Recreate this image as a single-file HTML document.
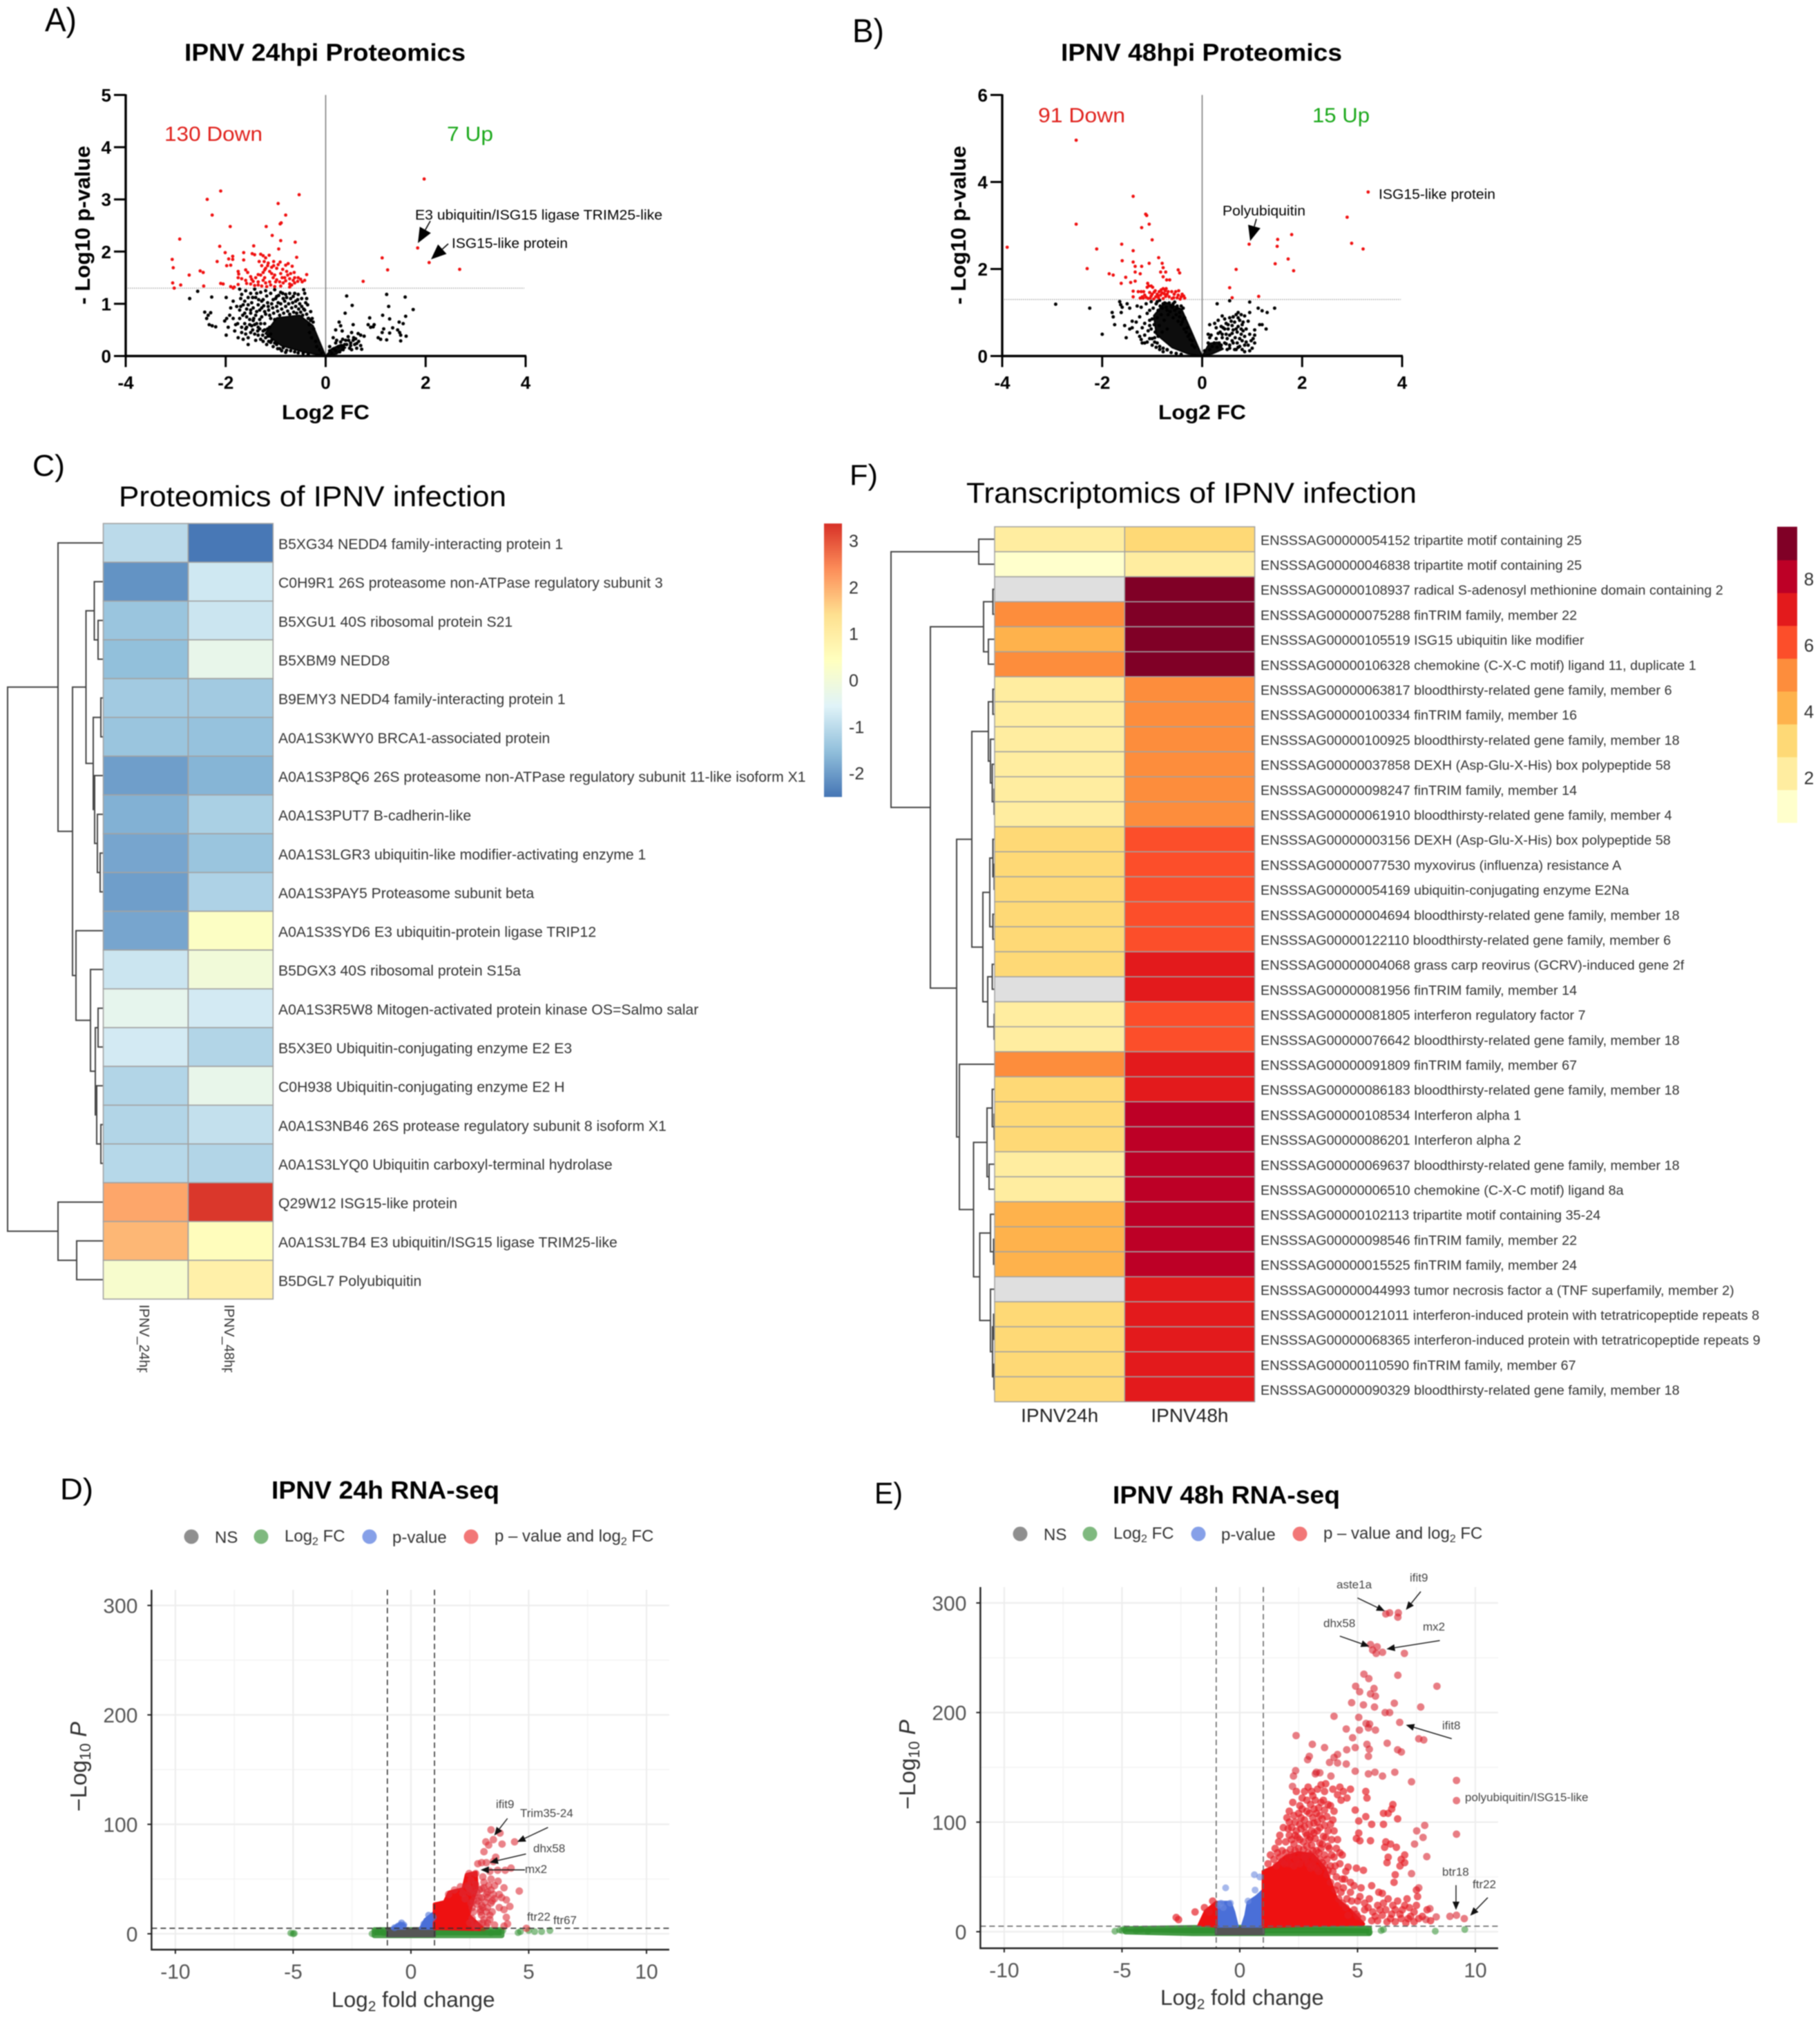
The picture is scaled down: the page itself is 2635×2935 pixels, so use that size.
<!DOCTYPE html>
<html lang="en">
<head>
<meta charset="utf-8">
<title>IPNV proteomics and transcriptomics figure</title>
<style>
html,body{margin:0;padding:0;background:#fff}
svg{display:block;filter:blur(.7px);font-family:"Liberation Sans",Arial,sans-serif}
</style>
</head>
<body>
<svg id="figure" xmlns="http://www.w3.org/2000/svg" width="2635" height="2935" viewBox="0 0 2635 2935">
<defs>
<linearGradient id="rdylbu" x1="0" y1="1" x2="0" y2="0">
<stop offset="0" stop-color="#4575B4"/><stop offset=".1667" stop-color="#91BFDB"/><stop offset=".3333" stop-color="#E0F3F8"/><stop offset=".5" stop-color="#FFFFBF"/><stop offset=".6667" stop-color="#FEE090"/><stop offset=".8333" stop-color="#FC8D59"/><stop offset="1" stop-color="#D73027"/>
</linearGradient>
<clipPath id="colclip"><rect x="150" y="1885" width="250" height="102"/></clipPath>
</defs>
<rect width="2635" height="2935" fill="#fff"/>

<text x="65" y="45" font-size="48" textLength="46" lengthAdjust="spacingAndGlyphs">A)</text>
<text x="1234" y="61" font-size="48" textLength="46" lengthAdjust="spacingAndGlyphs">B)</text>
<text x="47" y="689" font-size="44" textLength="47" lengthAdjust="spacingAndGlyphs">C)</text>
<text x="1230" y="702" font-size="42" textLength="41" lengthAdjust="spacingAndGlyphs">F)</text>
<text x="87" y="2171" font-size="44" textLength="48" lengthAdjust="spacingAndGlyphs">D)</text>
<text x="1266" y="2177" font-size="44" textLength="41" lengthAdjust="spacingAndGlyphs">E)</text>

<text x="267" y="88" font-size="35" font-weight="700" textLength="407" lengthAdjust="spacingAndGlyphs">IPNV 24hpi Proteomics</text>
<text x="1536" y="88" font-size="35" font-weight="700" textLength="407" lengthAdjust="spacingAndGlyphs">IPNV 48hpi Proteomics</text>
<text x="172" y="733" font-size="42" textLength="561" lengthAdjust="spacingAndGlyphs">Proteomics of IPNV infection</text>
<text x="1399" y="728" font-size="42" textLength="652" lengthAdjust="spacingAndGlyphs">Transcriptomics of IPNV infection</text>
<text x="393" y="2170" font-size="36" font-weight="700" textLength="330" lengthAdjust="spacingAndGlyphs">IPNV 24h RNA-seq</text>
<text x="1611" y="2177" font-size="36" font-weight="700" textLength="329" lengthAdjust="spacingAndGlyphs">IPNV 48h RNA-seq</text>

<text transform="translate(130,441) rotate(-90)" font-size="31" font-weight="700" textLength="230" lengthAdjust="spacingAndGlyphs">- Log10 p-value</text>
<text transform="translate(1398,441) rotate(-90)" font-size="31" font-weight="700" textLength="230" lengthAdjust="spacingAndGlyphs">- Log10 p-value</text>
<text x="408" y="607" font-size="30" font-weight="700" textLength="127" lengthAdjust="spacingAndGlyphs">Log2 FC</text>
<text x="1677" y="607" font-size="30" font-weight="700" textLength="127" lengthAdjust="spacingAndGlyphs">Log2 FC</text>
<text x="238" y="204" font-size="30" fill="#e0201b" textLength="142" lengthAdjust="spacingAndGlyphs">130 Down</text>
<text x="647" y="204" font-size="30" fill="#1aa81a" textLength="67" lengthAdjust="spacingAndGlyphs">7 Up</text>
<text x="1503" y="177" font-size="30" fill="#e0201b" textLength="126" lengthAdjust="spacingAndGlyphs">91 Down</text>
<text x="1900" y="177" font-size="30" fill="#1aa81a" textLength="83" lengthAdjust="spacingAndGlyphs">15 Up</text>
<text x="601" y="318" font-size="20" textLength="358" lengthAdjust="spacingAndGlyphs">E3 ubiquitin/ISG15 ligase TRIM25-like</text>
<text x="654" y="359" font-size="20" textLength="168" lengthAdjust="spacingAndGlyphs">ISG15-like protein</text>
<text x="1996" y="288" font-size="20" textLength="169" lengthAdjust="spacingAndGlyphs">ISG15-like protein</text>
<text x="1770" y="312" font-size="20" textLength="120" lengthAdjust="spacingAndGlyphs">Polyubiquitin</text>

<rect x="1193" y="758" width="26" height="396" fill="url(#rdylbu)"/>

<text transform="translate(125,2623) rotate(-90)" font-size="33" fill="#333">−Log<tspan font-size="22" dy="6">10</tspan><tspan dy="-6"> </tspan><tspan font-style="italic">P</tspan></text>
<text transform="translate(1325,2620) rotate(-90)" font-size="33" fill="#333">−Log<tspan font-size="22" dy="6">10</tspan><tspan dy="-6"> </tspan><tspan font-style="italic">P</tspan></text>
<text x="480" y="2906" font-size="31.6" fill="#333">Log<tspan font-size="21" dy="6">2</tspan><tspan dy="-6"> fold change</tspan></text>
<text x="1680" y="2903" font-size="31.6" fill="#333">Log<tspan font-size="21" dy="6">2</tspan><tspan dy="-6"> fold change</tspan></text>

<g font-size="24" fill="#333">
<circle cx="277" cy="2225" r="10.5" fill="#8f8f8f"/>
<text x="311" y="2234">NS</text>
<circle cx="378" cy="2225" r="10.5" fill="#7fb97f"/>
<text x="412" y="2232">Log<tspan font-size="16" dy="5">2</tspan><tspan dy="-5"> FC</tspan></text>
<circle cx="535" cy="2225" r="10.5" fill="#86a0e8"/>
<text x="568" y="2234">p-value</text>
<circle cx="682" cy="2225" r="10.5" fill="#f27777"/>
<text x="716" y="2232">p – value and log<tspan font-size="16" dy="5">2</tspan><tspan dy="-5"> FC</tspan></text>
</g>
<g font-size="24" fill="#333">
<circle cx="1477" cy="2221" r="10.5" fill="#8f8f8f"/>
<text x="1511" y="2230">NS</text>
<circle cx="1578" cy="2221" r="10.5" fill="#7fb97f"/>
<text x="1612" y="2228">Log<tspan font-size="16" dy="5">2</tspan><tspan dy="-5"> FC</tspan></text>
<circle cx="1735" cy="2221" r="10.5" fill="#86a0e8"/>
<text x="1768" y="2230">p-value</text>
<circle cx="1882" cy="2221" r="10.5" fill="#f27777"/>
<text x="1916" y="2228">p – value and log<tspan font-size="16" dy="5">2</tspan><tspan dy="-5"> FC</tspan></text>
</g>
</svg>

<script>
/* ---------- Panel A data ---------- */
const aXTicks=[-4,-2,0,2,4];
const aYTicks=[0,1,2,3,4,5];
const aUp=[[1.97,3.39],[1.84,2.07],[2.07,1.79],[2.68,1.66],[1.13,1.88],[1.24,1.65],[0.75,1.43]];
const aDown=[[-2.1,3.16],[-0.53,3.09],[-2.37,3],[-0.95,2.92],[-0.8,2.7],[-2.27,2.7],[-0.89,2.55],[-0.91,2.53],[-1.91,2.48],[-1.19,2.48],[-1.07,2.31],[-2.92,2.24],[-0.9,2.21],[-0.61,2.18],[-2.12,2.1],[-1.44,2.11],[-0.94,2.05],[-2.01,1.98],[-1.64,1.98],[-1.47,1.96],[-1.42,1.94],[-3.07,1.85],[-1.86,1.91],[-1.13,1.93],[-0.58,1.89],[-1.94,1.86],[-1.86,1.85],[-1.64,1.84],[-1.2,1.88],[-2.17,1.81],[-1.9,1.74],[-1.98,1.73],[-1.33,1.81],[-1.23,1.81],[-1.04,1.81],[-0.91,1.8],[-3.05,1.69],[-1.28,1.73],[-1.16,1.73],[-1.04,1.73],[-0.8,1.74],[-0.67,1.72],[-1.2,1.68],[-1.22,1.65],[-1.12,1.62],[-0.98,1.68],[-0.86,1.66],[-0.78,1.62],[-2.51,1.63],[-2.45,1.6],[-1.75,1.62],[-1.74,1.57],[-1.6,1.65],[-1.56,1.6],[-1.35,1.56],[-1.3,1.55],[-1.08,1.58],[-1.02,1.55],[-0.9,1.58],[-0.76,1.55],[-0.63,1.6],[-0.38,1.56],[-2.73,1.55],[-1.5,1.52],[-1.48,1.47],[-1.45,1.43],[-1.22,1.5],[-1.25,1.45],[-1.05,1.5],[-0.98,1.46],[-0.87,1.5],[-0.72,1.48],[-0.62,1.5],[-0.5,1.47],[-0.56,1.43],[-0.62,1.4],[-0.47,1.42],[-0.72,1.38],[-0.85,1.4],[-1,1.42],[-1.12,1.42],[-1.35,1.42],[-1.5,1.38],[-1.75,1.37],[-2.1,1.39],[-2.05,1.38],[-1.9,1.33],[-1.83,1.32],[-1.85,1.3],[-2.44,1.34],[-3.06,1.4],[-3.03,1.3],[-2.9,1.36],[-1.28,1.34],[-1.18,1.33],[-0.9,1.34],[-0.72,1.32],[-0.68,1.36],[-1.6,1.45],[-1.68,1.48],[-1.4,1.5],[-0.8,1.44],[-0.92,1.42],[-1.1,1.36],[-1.02,1.33],[-1.35,1.36],[-0.55,1.5],[-0.42,1.45],[-1.75,1.5],[-1.15,1.78],[-1.25,1.6],[-0.75,1.77],[-0.7,1.58],[-0.95,1.75],[-1.3,1.95],[-1.25,1.92],[-1.08,1.7],[-0.82,1.5],[-0.65,1.45],[-1.58,1.39],[-1.42,1.35],[-1.2,1.4]];
const aBlack=[[-2.72,1.1],[-2.56,1.24],[-2.28,1.13],[-2.42,0.84],[-2.35,0.78],[-2.38,0.72],[-2.3,0.83],[-2.33,0.6],[-2.27,0.58],[-2.2,0.56],[-1.99,1.12],[-2.02,0.67],[-1.98,0.72],[-1.92,0.78],[-1.9,0.92],[-1.95,0.55],[-1.8,0.6],[-1.99,0.4],[-1.68,0.45],[-1.55,0.22],[-1.72,1.28],[-1.68,1.18],[-1.7,1.1],[-1.6,1.25],[-1.55,1.12],[-1.5,1.2],[-1.48,1.02],[-1.42,1.28],[-1.4,1.12],[-1.35,0.98],[-1.3,1.22],[-1.25,1.08],[-1.2,1.25],[-1.15,0.95],[-1.1,1.2],[-1.05,1.08],[-1.02,1.27],[-0.98,1.14],[-0.95,1.02],[-0.9,1.22],[-0.85,1.1],[-0.8,1.18],[-0.72,1.2],[-0.65,1.14],[-0.6,1.05],[-0.55,1.18],[-0.48,1.1],[-0.42,1.2],[-0.38,1.1],[-0.44,1.27],[-0.36,0.98],[-0.3,0.85],[-0.25,0.65],[-1.85,1.05],[-1.78,0.95],[-1.72,0.88],[-1.65,0.98],[-1.62,0.82],[-1.58,0.9],[-1.52,0.7],[-1.5,0.82],[-1.45,0.92],[-1.42,0.6],[-1.4,0.78],[-1.38,0.85],[-1.35,0.55],[-1.32,0.7],[-1.28,0.92],[-1.25,0.48],[-1.22,0.62],[-1.2,0.8],[-1.15,0.38],[-1.12,0.55],[-1.1,0.72],[-1.62,0.62],[-1.6,0.52],[-1.55,0.35],[-1.5,0.45],[-1.48,0.58],[-1.42,0.42],[-1.4,0.3],[-1.35,0.4],[-1.3,0.32],[-1.72,0.72],[-1.82,0.48],[-1.75,0.35],[-1.65,0.32],[-1.6,0.42],[-1.25,0.28],[-1.18,0.22],[-1.1,0.26],[-1.05,0.18],[-0.98,0.22],[-0.92,0.14],[-0.85,0.16],[-0.78,0.11],[-0.7,0.1],[-0.62,0.08],[-0.55,0.06],[-0.45,0.05],[-0.35,0.03],[-1.85,0.72],[-1.68,0.55],[-1.58,0.75],[-1.45,0.68],[-0.32,0.45],[-0.28,0.35],[-0.2,0.28],[-0.18,0.18],[-0.12,0.12],[-0.08,0.06],[-0.35,0.72],[-0.33,0.6],[-0.42,0.88],
[-1.28,1.05],[-1.24,0.96],[-1.22,0.85],[-1.18,1.15],[-1.16,1.02],[-1.14,0.88],[-1.12,0.78],[-1.08,1],[-1.06,0.92],[-1.04,0.82],[-1.02,0.7],[-1,1.1],[-0.98,0.95],[-0.96,0.86],[-0.94,1.16],[-0.92,0.78],[-0.9,1],[-0.88,0.9],[-0.86,1.2],[-0.84,0.82],[-0.82,1.05],[-0.8,0.95],[-0.78,1.12],[-0.76,0.86],[-0.74,1],[-0.72,0.8],[-0.7,1.1],[-0.68,0.92],[-0.66,1.02],[-0.64,0.84],[-0.62,1.2],[-0.6,0.95],[-0.58,0.82],[-0.56,1.08],[-0.54,0.9],[-0.52,1],[-0.5,0.84],[-0.48,0.95],[-0.46,0.78],[-0.44,0.9],[-0.4,1.02],[-0.38,0.8],[-0.34,0.72],[-0.3,0.68],[-0.27,0.72],[-0.24,0.52],[-1.58,0.55],[-1.52,0.6],[-1.46,0.5],[-1.44,0.72],[-1.38,0.62],[-1.36,0.48],[-1.32,0.52],[-1.3,0.62],[-1.28,0.75],[-1.26,0.4],[-1.22,0.5],[-1.2,0.35],[-1.16,0.52],[-1.14,0.28],[-1.1,0.42],[-1.08,0.3],[-1.02,0.25],[-0.96,0.14],[-0.88,0.1],[-0.8,0.07],[-1.7,0.95],[-1.62,1.05],[-1.55,0.98],[-1.5,0.88],[-1.46,1.12],[-1.38,1.2],[-1.34,1.08],[-1.32,0.88],[-1.66,0.78],[-1.76,0.62],
[0.42,1.15],[0.53,0.97],[0.39,0.82],[1.22,1.18],[1.59,1.13],[1.26,0.95],[1.75,0.89],[1.14,0.78],[1.28,0.71],[0.88,0.73],[0.97,0.6],[0.85,0.6],[0.9,0.55],[0.95,0.56],[1.47,0.65],[1.55,0.62],[1.6,0.76],[1.44,0.5],[1.34,0.54],[1.16,0.52],[1.13,0.45],[1.48,0.45],[1.5,0.4],[1.61,0.38],[1.28,0.44],[1.05,0.35],[1.1,0.32],[1.22,0.31],[1.5,0.29],[0.77,0.38],[0.65,0.43],[0.7,0.4],[0.55,0.6],[0.27,0.65],[0.3,0.58],[0.2,0.5],[0.33,0.48],[0.45,0.37],[0.4,0.3],[0.5,0.25],[0.3,0.27],[0.2,0.25],[0.62,0.15],[0.7,0.2],[0.72,0.13],[0.66,0.28],[0.6,0.33],[0.52,0.45],[0.56,0.35],[0.38,0.22],[0.48,0.15],[0.35,0.12],[0.15,0.35],[0.08,0.18],[0.08,0.1],[0.12,0.06],[0.16,0.14],[0.2,0.1],[0.25,0.18],[0.28,0.08],[0.32,0.2],[0.36,0.16],[0.42,0.22],[0.46,0.3],[0.5,0.2],[0.52,0.12],[0.58,0.22],[0.22,0.3],[0.34,0.32],[0.62,0.24],[0.55,0.3]];
const aCoreLeft=[[0,0],[-0.25,0.58],[-0.52,0.78],[-0.98,0.73],[-1.21,0.43],[-0.89,0.2],[-0.43,0.07]];
const aCoreRight=[[0,0],[0.12,0.14],[0.3,0.22],[0.4,0.16],[0.22,0.04]];

/* ---------- Panel B data ---------- */
const bXTicks=[-4,-2,0,2,4];
const bYTicks=[0,2,4,6];
const bUp=[[3.32,3.77],[2.9,3.19],[2.99,2.59],[3.22,2.46],[1.79,2.79],[1.51,2.68],[1.5,2.52],[0.94,2.57],[1.72,2.23],[1.46,2.12],[1.83,1.96],[0.68,1.99],[0.55,1.57],[0.6,1.34],[1.13,1.37]];
const bDown=[[-2.52,4.96],[-1.38,3.67],[-1.13,3.26],[-1.11,3.23],[-1.06,3.03],[-2.52,3.03],[-1.21,2.95],[-1,2.67],[-3.9,2.5],[-1.61,2.57],[-2.11,2.46],[-1.38,2.42],[-0.87,2.26],[-1.6,2.19],[-1.38,2.16],[-1.06,2.13],[-0.8,2.13],[-2.3,2.01],[-1.34,2.06],[-1.21,2.06],[-0.78,2.03],[-0.48,1.98],[-0.73,1.93],[-0.83,1.93],[-0.45,1.91],[-1.86,1.89],[-1.78,1.86],[-1.34,1.93],[-1.24,1.89],[-1.53,1.81],[-0.78,1.82],[-0.71,1.75],[-0.65,1.75],[-1.34,1.72],[-1.43,1.69],[-1.62,1.67],[-1.09,1.67],[-1.07,1.61],[-1.02,1.61],[-1.1,1.58],[-0.99,1.58],[-1.38,1.49],[-1.22,1.48],[-1.17,1.48],[-1.05,1.46],[-0.96,1.47],[-0.82,1.52],[-0.78,1.55],[-0.74,1.5],[-0.68,1.48],[-0.61,1.48],[-0.53,1.48],[-0.47,1.5],[-0.8,1.45],[-0.83,1.4],[-0.88,1.38],[-0.93,1.36],[-1.02,1.38],[-1.12,1.35],[-1.18,1.33],[-1.38,1.36],[-0.73,1.37],[-0.66,1.36],[-0.57,1.34],[-0.5,1.34],[-0.42,1.36],[-0.37,1.38],[-0.35,1.33],[-0.87,1.33],[-1.2,1.36],[-1.08,1.32],[-0.97,1.31],[-0.78,1.32],[-0.6,1.32],[-0.44,1.31],[-0.9,1.42],[-1,1.42],[-0.7,1.42],[-0.56,1.42],[-0.86,1.48],[-0.76,1.43],[-1.15,1.4],[-1.04,1.33],[-0.94,1.5],[-0.72,1.55],[-1.24,1.33],[-0.48,1.4],[-0.4,1.42],[-1.28,1.48]];
const bBlack=[[-2.93,1.19],[-2.25,1.1],[-2,0.5],[-1.65,1.25],[-1.63,1.18],[-1.6,1.12],[-1.62,1],[-1.8,1],[-1.78,0.9],[-1.75,0.72],[-1.5,1.2],[-1.45,1.1],[-1.4,0.8],[-1.32,0.78],[-1.3,1.15],[-1.25,0.9],[-1.22,1.12],[-1.4,0.65],[-1.45,0.62],[-1.55,0.7],[-1.52,0.42],[-1.3,0.55],[-1.25,0.45],[-1.2,0.65],[-1.15,0.75],[-1.12,1.2],[-1.1,0.98],[-1.05,1.05],[-1.02,1.25],[-1,0.85],[-1.22,0.38],[-1.15,0.3],[-1.15,0.48],[-1.08,0.58],[-1.05,0.7],[-1.05,0.4],[-1,0.25],[-0.95,0.32],[-1.2,0.3],[-0.92,1.2],[-0.88,1.05],[-0.85,1.28],[-0.8,1.1],[-0.75,1.22],[-0.7,1.05],[-0.62,1.15],[-0.58,1.2],[-0.55,1.05],[-0.5,1.1],[-0.45,1],[-0.42,1.15],[-0.38,1.1],[-0.35,0.88],[-0.4,0.78],[-0.3,0.65],[-0.25,0.5],[-0.2,0.35],[-0.15,0.2],[-0.92,0.2],[-0.85,0.15],[-0.78,0.1],[-0.7,0.15],[-0.62,0.08],[-0.52,0.06],[-0.42,0.04],
[-1.05,0.82],[-1.02,0.62],[-0.98,1.1],[-0.96,0.72],[-0.94,0.55],[-0.9,1.25],[-0.9,0.88],[-0.88,0.45],[-0.86,0.7],[-0.84,1.15],[-0.82,0.95],[-0.8,0.55],[-0.78,1.2],[-0.76,0.82],[-0.72,1.12],[-0.7,0.62],[-0.68,0.95],[-0.66,1.22],[-0.64,1.02],[-0.6,1.12],[-0.58,0.88],[-0.55,1.24],[-0.52,0.95],[-0.5,1.15],[-0.48,0.8],[-0.45,0.9],[-0.42,0.72],[-0.38,0.85],[-0.36,0.62],[-0.32,0.55],[-0.28,0.45],[-0.24,0.38],[-0.2,0.25],[-1.1,0.32],[-1,0.4],[-0.95,0.42],[-0.9,0.3],[-0.85,0.22],[-0.78,0.18],[-0.7,0.14],
[0.3,1.2],[0.55,1.27],[0.95,1.24],[1.12,1.1],[1.2,1.04],[1.3,1],[1.45,1.1],[0.72,1],[0.68,0.95],[0.55,0.88],[0.62,0.9],[0.72,0.88],[0.45,0.85],[0.4,0.92],[0.32,0.82],[0.25,0.75],[0.15,0.72],[0.28,0.65],[0.38,0.68],[0.45,0.62],[0.52,0.72],[0.6,0.7],[0.68,0.62],[0.8,0.72],[0.82,0.58],[0.78,0.5],[0.75,0.4],[1.15,0.72],[1.2,0.72],[1.05,0.6],[1.28,0.62],[1.05,0.48],[1.02,0.4],[1.05,0.3],[0.95,0.12],[0.85,0.25],[0.8,0.15],[0.85,0.1],[0.72,0.2],[0.62,0.3],[0.68,0.15],[0.55,0.18],[0.6,0.52],[0.4,0.5],[0.32,0.52],[0.18,0.48],[0.15,0.42],[0.12,0.5],[0.48,0.28],[0.38,0.25],[0.12,0.3],[0.05,0.12],[0.15,0.15],[0.2,0.22],[0.24,0.3],[0.28,0.4],[0.3,0.2],[0.34,0.3],[0.36,0.55],[0.4,0.42],[0.42,0.65],[0.45,0.3],[0.48,0.5],[0.5,0.15],[0.5,0.4],[0.52,0.62],[0.55,0.25],[0.55,0.48],[0.58,0.8],[0.6,0.35],[0.62,0.6],[0.65,0.15],[0.66,0.42],[0.7,0.3],[0.7,0.55],[0.72,0.68],[0.75,0.22],[0.78,0.62],[0.8,0.35],[0.82,0.78],[0.85,0.45],[0.88,0.32],[0.88,0.62],[0.92,0.8],[0.92,0.25],[0.95,0.5],[0.75,0.82],[0.65,0.78],[0.48,0.75],[1,0.18],[0.98,0.35],[0.62,0.9],[0.78,0.95],[0.85,0.92],[0.95,1]];
const bCoreLeft=[[0,0],[-0.23,0.61],[-0.41,1.08],[-0.74,1.24],[-0.97,0.93],[-0.92,0.5],[-0.6,0.19],[-0.28,0.05]];
const bCoreRight=[[0,0],[0.14,0.29],[0.3,0.32],[0.42,0.16],[0.2,0.05]];

/* ---------- Panel C data ---------- */
const cLabels=["B5XG34 NEDD4 family-interacting protein 1","C0H9R1 26S proteasome non-ATPase regulatory subunit 3","B5XGU1 40S ribosomal protein S21","B5XBM9 NEDD8","B9EMY3 NEDD4 family-interacting protein 1","A0A1S3KWY0 BRCA1-associated protein","A0A1S3P8Q6 26S proteasome non-ATPase regulatory subunit 11-like isoform X1","A0A1S3PUT7 B-cadherin-like","A0A1S3LGR3 ubiquitin-like modifier-activating enzyme 1","A0A1S3PAY5 Proteasome subunit beta","A0A1S3SYD6 E3 ubiquitin-protein ligase TRIP12","B5DGX3 40S ribosomal protein S15a","A0A1S3R5W8 Mitogen-activated protein kinase OS=Salmo salar","B5X3E0 Ubiquitin-conjugating enzyme E2 E3","C0H938 Ubiquitin-conjugating enzyme E2 H","A0A1S3NB46 26S protease regulatory subunit 8 isoform X1","A0A1S3LYQ0 Ubiquitin carboxyl-terminal hydrolase","Q29W12 ISG15-like protein","A0A1S3L7B4 E3 ubiquitin/ISG15 ligase TRIM25-like","B5DGL7 Polyubiquitin"];
const cCols=["IPNV_24hpi","IPNV_48hpi"];
const c24=[-1,-2.1,-1.4,-1.5,-1.3,-1.4,-1.95,-1.7,-1.85,-1.95,-1.85,-0.8,-0.35,-0.7,-1.1,-1.1,-1.05,2.1,1.9,0.2];
const c48=[-2.45,-0.75,-0.8,-0.3,-1.3,-1.45,-1.65,-1.2,-1.4,-1.15,0.35,0,-0.7,-1.1,-0.3,-0.9,-1.1,3.3,0.5,0.9];
const cLegendTicks=[3,2,1,0,-1,-2];
const cTree=[138.5,[65.5,0,[44.5,[25,[13,1,[7.5,2,3]],[14.5,[3.5,4,5],[12.5,6,[8.5,7,[4.5,8,9]]]]],[39.5,10,[18.5,11,[11.5,[7.5,12,13],[9.5,14,[3.5,15,16]]]]]]],[65.5,17,[38.5,18,19]]];
const cPalette=["#4575B4","#91BFDB","#E0F3F8","#FFFFBF","#FEE090","#FC8D59","#D73027"];

/* ---------- Panel F data ---------- */
const fLabels=["ENSSSAG00000054152 tripartite motif containing 25","ENSSSAG00000046838 tripartite motif containing 25","ENSSSAG00000108937 radical S-adenosyl methionine domain containing 2","ENSSSAG00000075288 finTRIM family, member 22","ENSSSAG00000105519 ISG15 ubiquitin like modifier","ENSSSAG00000106328 chemokine (C-X-C motif) ligand 11, duplicate 1","ENSSSAG00000063817 bloodthirsty-related gene family, member 6","ENSSSAG00000100334 finTRIM family, member 16","ENSSSAG00000100925 bloodthirsty-related gene family, member 18","ENSSSAG00000037858 DEXH (Asp-Glu-X-His) box polypeptide 58","ENSSSAG00000098247 finTRIM family, member 14","ENSSSAG00000061910 bloodthirsty-related gene family, member 4","ENSSSAG00000003156 DEXH (Asp-Glu-X-His) box polypeptide 58","ENSSSAG00000077530 myxovirus (influenza) resistance A","ENSSSAG00000054169 ubiquitin-conjugating enzyme E2Na","ENSSSAG00000004694 bloodthirsty-related gene family, member 18","ENSSSAG00000122110 bloodthirsty-related gene family, member 6","ENSSSAG00000004068 grass carp reovirus (GCRV)-induced gene 2f","ENSSSAG00000081956 finTRIM family, member 14","ENSSSAG00000081805 interferon regulatory factor 7","ENSSSAG00000076642 bloodthirsty-related gene family, member 18","ENSSSAG00000091809 finTRIM family, member 67","ENSSSAG00000086183 bloodthirsty-related gene family, member 18","ENSSSAG00000108534 Interferon alpha 1","ENSSSAG00000086201 Interferon alpha 2","ENSSSAG00000069637 bloodthirsty-related gene family, member 18","ENSSSAG00000006510 chemokine (C-X-C motif) ligand 8a","ENSSSAG00000102113 tripartite motif containing 35-24","ENSSSAG00000098546 finTRIM family, member 22","ENSSSAG00000015525 finTRIM family, member 24","ENSSSAG00000044993 tumor necrosis factor a (TNF superfamily, member 2)","ENSSSAG00000121011 interferon-induced protein with tetratricopeptide repeats 8","ENSSSAG00000068365 interferon-induced protein with tetratricopeptide repeats 9","ENSSSAG00000110590 finTRIM family, member 67","ENSSSAG00000090329 bloodthirsty-related gene family, member 18"];
const fCols=["IPNV24h","IPNV48h"];
const f24=[2.2,1.2,null,5.2,4.2,5.2,2.2,2.2,2.2,2.2,2.2,2.2,3.2,3.2,3.2,3.2,3.2,3.2,null,2.2,2.2,5.2,3.2,3.2,3.2,2.2,2.2,4.2,4.2,4.2,null,3.2,3.2,3.2,3.2];
const f48=[3.2,2.2,9.2,9.2,9.2,9.2,5.2,5.2,5.2,5.2,5.2,5.2,6.2,6.2,6.2,6.2,6.2,7.2,7.2,6.2,6.2,7.2,7.2,8.2,8.2,8.2,8.2,8.2,8.2,8.2,7.2,7.2,7.2,7.2,7.2];
const fBreaks=[0.66,1.65,2.64,3.63,4.62,5.61,6.6,7.59,8.58,9.58];
const fBinColors=["#FFFFCC","#FFEDA0","#FED976","#FEB24C","#FD8D3C","#FC4E2A","#E31A1C","#BD0026","#800026"];
const fLegendTicks=[8,6,4,2];
const fTree=[150,[23,0,1],[93,[16,[2.5,2,3],[9,4,5]],[55,[33,[9,[2.5,6,7],[6,8,[3.4,9,[0.7,10,11]]]],[17,[7,[2.5,12,[0.7,13,14]],[2.5,15,16]],[10,[3.4,17,18],[0.7,19,20]]]],[51,21,[30.5,[11,[3.4,22,[0.7,23,24]],[8,25,26]],[21.5,[6,27,[1.5,28,29]],[6,30,[3,[1.5,31,32],[1,33,34]]]]]]]]];

/* ---------- Panel D data ---------- */
const rnaXTicks=[-10,-5,0,5,10];
const rnaYTicks=[0,100,200,300];
const rnaXMinor=[-7.5,-2.5,2.5,7.5];
const rnaYMinor=[50,150,250];
const dRed=[[3.4,95],[3.78,92],[3.18,84],[3.5,86],[3.87,82],[4.4,84],[3.3,81],[3.1,75],[3.6,70],[2.84,64],[3,65],[3.2,65],[3.5,66],[4.25,60],[3.68,58],[4,58],[3.35,57],[2.47,55],[2.75,55],[3.05,52],[3.4,50],[3.7,48],[3.1,47],[3.3,44],[3.55,44],[3.95,42],[4.6,39],[3.25,38],[3.5,36],[2.9,40],[3,33],[3.25,33],[3.55,32],[3.85,33],[4.05,31],[2.65,30],[2.8,27],[3,26],[3.4,28],[4.2,25],[3.95,22],[3.75,24],[3.2,20],[3.45,20],[4.05,15],[3,17],[3.1,13],[3.35,13],[3.95,7],[4.1,9],[3.55,8],[3.2,7],[2.9,9],[4.9,5],[2.5,38],[2.1,43],[1.85,40],[1.6,36],[2.6,24],[2.95,20],[2.6,14],[2.7,8],[2.2,37],[3.15,29],[2.75,45],[2.55,49],[2.4,44],[2.6,40],[2.8,38],[3,41],[3.2,36],[3.1,42],[2.9,33],[2.7,35],[2.55,28],[2.85,30],[3.05,24],[2.95,22],[3.25,24],[3.35,17],[2.65,20],[2.5,10],[2.75,6],[3.05,10],[3.25,10],[3.4,40],[3.45,30],[3.75,36],[2.3,32],[2.45,42]];
const dBlue=[[-0.4,10],[-0.55,7],[-0.3,8],[-0.7,5.5],[0.75,17],[0.85,13],[0.55,9],[0.95,15]];
const dGreen=[[-5,0],[-5.1,0.6],[-4.95,0.3],[-1.65,0],[-1.5,2],[4.55,1],[4.65,2],[5,3],[5.25,2],[5.55,2],[5.9,3],[3.9,3],[3.7,2],[3.4,1],[3.1,3],[-1.3,3],[-1.15,1]];
const dDenseRed=[[1,5],[1,27],[1.43,29],[1.63,38],[2.22,41],[2.36,54],[2.76,56],[2.8,42],[2.61,30],[2.45,17],[2.8,10],[3.1,4]];
const dDenseBlueL=[[-0.8,5],[-0.45,10],[-0.25,8],[-0.25,5]];
const dDenseBlueR=[[0.4,5],[0.6,13],[0.95,19],[1,5]];
const dDenseGreen=[[-1.55,-1.5],[3.85,-1.5],[3.85,3.5],[-1.55,3.5]];
const dDenseGray=[[-1,-2],[1,-2],[1,4.8],[0.1,4.8],[0,2.5],[-0.1,4.8],[-1,4.8]];

/* ---------- Panel E data ---------- */
const eRedTop=[[6.2,290],[6.36,291],[6.73,291],[6.71,287],[5.55,262],[5.83,260],[5.64,257],[5.79,254],[6.06,255],[6.99,254],[5.27,235],[5.48,231],[6.71,234],[8.37,224],[4.92,224],[5.7,222],[5.09,219],[5.55,217],[5.76,215],[4.75,209],[5.25,207],[5.72,205],[6.56,208.5],[7.68,205],[6.17,200],[6.36,200],[4,196.6],[5.05,195.6],[5.36,190],[5.51,189.5],[6.79,191],[5.46,186],[5.76,184],[4.52,185],[5.08,184],[2.39,179],[4.79,177],[7.6,176],[7.81,175],[3.08,171],[5.4,171],[6.26,172],[3.6,168],[4.9,168],[4.54,166],[5.5,166.5],[6.7,166],[6.86,164],[2.95,160],[4.15,161.7],[5.46,160],[4,159],[2.88,157],[3.81,154.5],[4.15,154],[4.52,153],[2.37,147],[4.9,146.5],[6.58,145.5],[3.25,145.5],[2.28,142],[3.4,145],[5.46,144],[5.74,145.5],[6.06,142],[9.2,138],[7.29,136.8],[3.87,142],[3.21,144],[2.24,132.6],[9.2,119.6],[9.2,89],[7.85,97],[7.51,92],[7.78,86],[7.42,80],[7.94,68.5],[7.29,53],[7.6,40],[8.07,21],[8.92,14],[9.2,15],[9.53,12],[8.34,13.5],[7.9,11]];
const eRedCloud=[[2.4,128],[2.9,132],[3.3,130],[3.6,128],[3.95,130],[4.4,128],[4.7,130],[5.35,128],[4.15,125],[3.1,124],[2.65,122],[2.25,118],[2.55,115],[3,116],[3.45,118],[3.85,115],[4.3,120],[5.4,122],[6.5,116],[6.45,112],[2.1,110],[2.5,108],[2.85,110],[3.25,108],[3.6,111],[4,110],[4.9,111],[5.35,105],[6.1,108],[6.3,108],[2,104],[2.35,100],[2.75,102],[3.15,99],[3.5,103],[3.85,98],[6.7,103],[1.85,95],[2.2,95],[2.6,94],[3.05,92],[3.4,95],[3.75,92],[5.05,101],[5.05,90],[5.6,98],[1.7,88],[2.1,88],[2.45,86],[2.85,88],[3.2,85],[3.55,87],[3.9,84],[5.1,83],[6.1,98],[1.65,82],[1.95,82],[2.3,80],[2.7,82],[3.05,79],[3.4,81],[3.75,78],[4.1,76],[4.95,85],[5.55,83],[6.2,82],[6.4,80],[6.65,77],[1.5,76],[1.8,74],[2.15,75],[2.5,76],[2.9,72],[3.25,74],[3.6,70],[4,68],[4.35,70],[6.15,77],[6.85,66],[7,70],[1.3,70],[1.7,68],[2.05,68],[2.4,66],[2.8,66],[3.15,65],[3.5,63],[3.85,60],[4.25,62],[4.6,59],[6.3,68],[6.25,63],[6.8,60],[7,63],[1.2,62],[1.55,60],[3,58],[3.35,55],[3.7,52],[4.1,50],[4.5,55],[4.95,58],[5.25,56],[6.6,52],[6.55,45],[5.6,42],[5.9,36],[6.05,35],[6.3,30],[6.7,28],[7.5,38],[7.1,30],[7.55,32],[7.95,20],[7.5,24],[7.2,22],[6.9,20],[6.5,24],[6.2,20],[5.85,24],[5.5,30],[5.1,32],[4.7,36],[4.4,40],[4.75,28],[5.3,20],[5.65,18],[6.05,15],[6.45,16],[6.85,12],[7.25,14],[7.6,12],[4.6,15],[5,14],[4.2,30],[4.5,22],[4.05,38],[3.85,45],[-2.6,11],[-2.7,13],[-1.9,18],[-1.15,28],[-1.5,22],[-1.3,18],
[2.1,100],[2.3,106],[2.6,104],[2.75,96],[2.95,98],[3.1,104],[3.3,100],[3.4,106],[3.6,97],[3.7,105],[3.95,102],[2.4,92],[2.55,98],[2.8,90],[2.95,84],[3.15,90],[3.3,92],[3.5,80],[3.65,86],[3.8,76],[4.0,92],[4.15,84],[2.05,94],[2.2,84],[2.35,88],[2.55,84],[2.7,75],[2.85,78],[3.0,86],[3.1,74],[3.35,72],[3.45,76],[3.7,66],[3.9,70],[4.05,60],[4.25,72],[4.45,48],[1.8,64],[1.95,72],[2.2,70],[2.35,74],[2.6,70],[2.75,68],[3.0,70],[3.2,68],[3.4,66],[3.6,60],[3.75,56],[3.95,55],[4.15,42],[4.3,36],[4.35,48],[1.45,66],[1.6,72],[1.9,62],[2.1,62],[2.3,60],[2.55,62],[2.9,62],[3.1,60],[3.25,58],[4.7,45],[4.85,42],[5.0,28],[5.15,40],[5.3,26],[5.45,22],[5.75,14],[5.95,20],[6.1,26],[6.4,12],[6.6,20],[6.8,16],[7.0,24],[7.15,12],[7.4,18],[7.75,14],[8.1,10],[5.2,12],[4.85,20],[4.55,30],[4.35,26],[4.95,16],[5.6,10],[5.85,10],[6.25,9],[6.6,9],[7.05,8],[7.4,9],[2.65,112],[2.95,108],[3.35,113],[3.55,120],[3.75,116],[3.15,112],[2.85,120],[3.2,120],[3.05,128],[2.75,128],[3.65,135],[3.45,134],[4.25,132],[4.55,122]];
const eBlue=[[-0.6,40],[-0.8,26],[-0.4,26],[0.62,52],[0.65,38],[0.85,50],[0.35,28],[-0.9,24],[-0.7,22]];
const eGreen=[[-5.3,0.5],[-5,1],[-4.9,2.5],[-5.1,1.5],[-4.4,1],[-4.2,2],[-3.9,0.5],[8.3,0.5],[9.55,2],[6,1],[6.1,2],[5.5,-0.5]];
const eDenseRed=[[1,5],[1,55],[1.44,59],[1.92,68],[2.5,72],[3.1,70],[3.6,58],[3.9,42],[4.1,30],[4.66,20],[5.25,7]];
const eDenseRedL=[[-1,5],[-1,27],[-1.46,19],[-1.74,6]];
const eDenseBlueL=[[-1,5],[-1,27],[-0.4,27],[-0.25,18],[-0.1,5]];
const eDenseBlueR=[[0.1,5],[0.25,15],[0.35,27],[0.7,32],[1,38],[1,5]];
const eDenseGreen=[[-4.85,0],[-2,-1.5],[5.5,-1.5],[5.5,3],[3,4],[-2,3.5],[-4.85,2.5]];
const eDenseGray=[[-1,-2],[1,-2],[1,3.5],[-1,3.5]];

/* ---------- Helpers ---------- */
const SVGNS="http://www.w3.org/2000/svg";
const root=document.getElementById('figure');
function mk(tag,name,attrs,parent){
  const el=document.createElementNS(SVGNS,tag);
  
  
  for(const k in attrs){el.setAttribute(k,attrs[k]);}
  (parent||root).appendChild(el);
  return el;
}
function txt(name,x,y,str,attrs,parent){
  const el=mk('text',name,Object.assign({x:x,y:y},attrs||{}),parent);
  el.textContent=str;
  return el;
}
function linear(d0,d1,r0,r1){return v=>r0+(v-d0)*(r1-r0)/(d1-d0);}
function dots(parent,name,pts,sx,sy,r,fill,op){
  pts.forEach(p=>{mk('circle',name,{cx:sx(p[0]).toFixed(1),cy:sy(p[1]).toFixed(1),r:r,fill:fill,'fill-opacity':op},parent);});
}
function mass(parent,name,pts,sx,sy,fill,op,sw){
  const d='M'+pts.map(p=>sx(p[0]).toFixed(1)+' '+sy(p[1]).toFixed(1)).join('L')+'Z';
  mk('path',name,{d:d,fill:fill,'fill-opacity':op,stroke:fill,'stroke-opacity':op,'stroke-width':sw,'stroke-linejoin':'round'},parent);
}
function arrow(parent,name,x1,y1,x2,y2,size,color,lw){
  const a=Math.atan2(y2-y1,x2-x1),bx=x2-size*Math.cos(a),by=y2-size*Math.sin(a);
  const w=size*0.42,nx=-Math.sin(a)*w,ny=Math.cos(a)*w;
  mk('path',name,{d:'M'+x1+' '+y1+'L'+bx+' '+by,stroke:color,'stroke-width':lw,fill:'none'},parent);
  mk('path',name+'-head',{d:'M'+x2+' '+y2+'L'+(bx+nx)+' '+(by+ny)+'L'+(bx-nx)+' '+(by-ny)+'Z',fill:color},parent);
}

/* ---------- Proteomics volcano panels ---------- */
function proteomicsPanel(id,left,right,zeroPx,topPx,yMax,xTicks,yTicks,black,coreL,coreR,down,up){
  const g=mk('g','panel-'+id+'-volcano',{});
  const sx=linear(-4,4,left,right),sy=linear(0,yMax,zeroPx,topPx);
  mk('line','threshold-line',{x1:left,x2:right-2,y1:sy(1.3),y2:sy(1.3),stroke:'#999','stroke-width':1.2,'stroke-dasharray':'1.5 1.5'},g);
  mk('line','zero-line',{x1:sx(0),x2:sx(0),y1:topPx,y2:zeroPx,stroke:'#777','stroke-width':1.5},g);
  mass(g,'dense-nonsignificant-left',coreL,sx,sy,'#000',0.95,2);
  mass(g,'dense-nonsignificant-right',coreR,sx,sy,'#000',0.95,2);
  dots(g,'nonsignificant-point',black,sx,sy,2.5,'#000',1);
  dots(g,'down-regulated-point',down,sx,sy,2.4,'#f01010',1);
  dots(g,'up-regulated-point',up,sx,sy,2.4,'#f01010',1);
  mk('line','y-axis-line',{x1:left,x2:left,y1:topPx-1,y2:zeroPx+1,stroke:'#000','stroke-width':3.4},g);
  mk('line','x-axis-line',{x1:left-1,x2:right+1,y1:zeroPx,y2:zeroPx,stroke:'#000','stroke-width':3.4},g);
  xTicks.forEach(v=>{
    mk('line','x-tick',{x1:sx(v),x2:sx(v),y1:zeroPx,y2:zeroPx+16,stroke:'#000','stroke-width':3},g);
    txt('x-tick-label',sx(v),563,String(v),{'text-anchor':'middle','font-size':26,'font-weight':700},g);
  });
  yTicks.forEach(v=>{
    mk('line','y-tick',{x1:left-17,x2:left,y1:sy(v),y2:sy(v),stroke:'#000','stroke-width':3},g);
    txt('y-tick-label',left-21,sy(v)+9.5,String(v),{'text-anchor':'end','font-size':26,'font-weight':700},g);
  });
}
proteomicsPanel('a',182,761,515.5,137.5,5,aXTicks,aYTicks,aBlack,aCoreLeft,aCoreRight,aDown,aUp);
proteomicsPanel('b',1451,2030,515.5,137.5,6,bXTicks,bYTicks,bBlack,bCoreLeft,bCoreRight,bDown,bUp);
const noteG=mk('g','proteomics-arrows',{});
arrow(noteG,'trim25-arrow',623,320,605,352,22,'#000',1.6);
arrow(noteG,'isg15-arrow-a',649,353,624,375.5,22,'#000',1.6);
arrow(noteG,'polyubiquitin-arrow',1819,317,1810,349,22,'#000',1.6);

/* ---------- Dendrogram ---------- */
function drawTree(parent,node,left,rowY){
  if(typeof node==='number'){return {x:left,y:rowY(node)};}
  const a=drawTree(parent,node[1],left,rowY),b=drawTree(parent,node[2],left,rowY);
  const x=left-node[0];
  mk('path','dendrogram-branch',{d:'M'+a.x+' '+a.y+'H'+x+'V'+b.y+'H'+b.x,fill:'none',stroke:'#444','stroke-width':2},parent);
  return {x:x,y:(a.y+b.y)/2};
}

/* ---------- Panel C heatmap ---------- */
function hex(c){return [1,3,5].map(i=>parseInt(c.substr(i,2),16));}
const cMin=-2.49,cMax=3.37;
function cColor(v){
  const t=Math.max(0,Math.min(1,(v-cMin)/(cMax-cMin)))*(cPalette.length-1);
  const i=Math.min(cPalette.length-2,Math.floor(t)),f=t-i;
  const a=hex(cPalette[i]),b=hex(cPalette[i+1]);
  return 'rgb('+a.map((q,k)=>Math.round(q+(b[k]-q)*f)).join(',')+')';
}
(function(){
  const g=mk('g','panel-c-heatmap',{});
  const top=758,rowH=56.15,xs=[149.5,272.5],colW=122.8;
  const rowY=i=>top+rowH*(i+.5);
  drawTree(g,cTree,149.5,rowY);
  [c24,c48].forEach((vals,c)=>{
    vals.forEach((v,r)=>{
      mk('rect','heatmap-cell',{x:xs[c],y:top+r*rowH,width:colW,height:rowH,fill:cColor(v),stroke:'#a2a2a2','stroke-width':1.6},g);
    });
  });
  cLabels.forEach((s,r)=>{txt('protein-label',403,rowY(r)+9,s,{'font-size':21.2,fill:'#333'},g);});
  const cg=mk('g','column-labels',{'clip-path':'url(#colclip)'},g);
  cCols.forEach((s,c)=>{
    txt('column-label',0,0,s,{transform:'translate('+(xs[c]+colW/2-9)+',1889) rotate(90)','font-size':20,fill:'#333'},cg);
  });
  const sy=linear(0,3,985,783);
  cLegendTicks.forEach(v=>{
    txt('colorbar-tick-label',1229,sy(v)+9,String(v),{'font-size':25,fill:'#333'},g);
  });
})();

/* ---------- Panel F heatmap ---------- */
function fColor(v){
  if(v===null){return '#dfdfdf';}
  for(let i=0;i<fBinColors.length;i++){if(v<fBreaks[i+1]){return fBinColors[i];}}
  return fBinColors[fBinColors.length-1];
}
(function(){
  const g=mk('g','panel-f-heatmap',{});
  const top=762.7,rowH=36.2,xs=[1440,1628.3],colW=188.3;
  const rowY=i=>top+rowH*(i+.5);
  drawTree(g,fTree,1440,rowY);
  [f24,f48].forEach((vals,c)=>{
    vals.forEach((v,r)=>{
      mk('rect','heatmap-cell',{x:xs[c],y:top+r*rowH,width:colW,height:rowH,fill:fColor(v),stroke:'#a2a2a2','stroke-width':1.5},g);
    });
  });
  fLabels.forEach((s,r)=>{txt('gene-label',1825,rowY(r)+8,s,{'font-size':19.8,fill:'#333'},g);});
  fCols.forEach((s,c)=>{
    txt('column-label',xs[c]+colW/2,2059,s,{'text-anchor':'middle','font-size':28,fill:'#222'},g);
  });
  const ly=linear(fBreaks[0],fBreaks[fBreaks.length-1],1191,762.7);
  fBinColors.forEach((col,i)=>{
    mk('rect','legend-swatch',{x:2573,y:ly(fBreaks[i+1]),width:29,height:ly(fBreaks[i])-ly(fBreaks[i+1])+.5,fill:col},g);
  });
  fLegendTicks.forEach(v=>{
    txt('legend-tick-label',2619,ly(v)+9,String(v),{'text-anchor':'middle','font-size':26,fill:'#333'},g);
  });
})();

/* ---------- RNA-seq volcano panels ---------- */
function rnaPanel(id,o,draw){
  const g=mk('g','panel-'+id+'-volcano',{});
  const sx=linear(-10,10,o.x10n,o.x10p),sy=linear(0,300,o.y0,o.y300);
  rnaXMinor.forEach(v=>mk('line','minor-gridline',{x1:sx(v),x2:sx(v),y1:o.top,y2:o.bottom,stroke:'#f3f3f3','stroke-width':1.5},g));
  rnaYMinor.forEach(v=>mk('line','minor-gridline',{x1:o.left,x2:o.right,y1:sy(v),y2:sy(v),stroke:'#f3f3f3','stroke-width':1.5},g));
  rnaXTicks.forEach(v=>mk('line','major-gridline',{x1:sx(v),x2:sx(v),y1:o.top,y2:o.bottom,stroke:'#ededed','stroke-width':2.2},g));
  rnaYTicks.forEach(v=>mk('line','major-gridline',{x1:o.left,x2:o.right,y1:sy(v),y2:sy(v),stroke:'#ededed','stroke-width':2.2},g));
  draw(g,sx,sy);
  [-1,1].forEach(v=>mk('line','fold-change-threshold',{x1:sx(v),x2:sx(v),y1:o.top,y2:o.bottom,stroke:o.dash,'stroke-width':1.6,'stroke-dasharray':'8 5'},g));
  mk('line','p-value-threshold',{x1:o.left,x2:o.right,y1:sy(5),y2:sy(5),stroke:o.dash,'stroke-width':1.6,'stroke-dasharray':'8 5'},g);
  mk('line','y-axis-line',{x1:o.left,x2:o.left,y1:o.top,y2:o.bottom+1,stroke:'#222','stroke-width':2.4},g);
  mk('line','x-axis-line',{x1:o.left-1,x2:o.right,y1:o.bottom,y2:o.bottom,stroke:'#222','stroke-width':2.4},g);
  rnaXTicks.forEach(v=>{
    mk('line','x-tick',{x1:sx(v),x2:sx(v),y1:o.bottom,y2:o.bottom+6,stroke:'#222','stroke-width':2},g);
    txt('x-tick-label',sx(v),o.bottom+42,String(v),{'text-anchor':'middle','font-size':30,fill:'#555'},g);
  });
  rnaYTicks.forEach(v=>{
    mk('line','y-tick',{x1:o.left-6,x2:o.left,y1:sy(v),y2:sy(v),stroke:'#222','stroke-width':2},g);
    txt('y-tick-label',o.left-20,sy(v)+11,String(v),{'text-anchor':'end','font-size':30,fill:'#555'},g);
  });
  return g;
}
rnaPanel('d',{x10n:253.9,x10p:936,y0:2800,y300:2324.6,left:219.4,right:969,top:2302,bottom:2823,dash:'#333'},(g,sx,sy)=>{
  mass(g,'dense-log2fc-band',dDenseGreen,sx,sy,'#2f8f2f',0.85,8);
  mass(g,'dense-ns-band',dDenseGray,sx,sy,'#555',1,4);
  mass(g,'dense-pvalue-left',dDenseBlueL,sx,sy,'#5577dd',0.9,4);
  mass(g,'dense-pvalue-right',dDenseBlueR,sx,sy,'#4a6fd8',1,4);
  mass(g,'dense-significant-region',dDenseRed,sx,sy,'#ee1111',1,5);
  dots(g,'log2fc-point',dGreen,sx,sy,5,'#2f8f2f',0.55);
  dots(g,'pvalue-point',dBlue,sx,sy,5,'#4a6fd8',0.6);
  dots(g,'significant-point',dRed,sx,sy,5.4,'#dc2a33',0.58);
});
rnaPanel('e',{x10n:1453.9,x10p:2136,y0:2797,y300:2321,left:1419.4,right:2169,top:2298,bottom:2821,dash:'#666'},(g,sx,sy)=>{
  mass(g,'dense-log2fc-band',eDenseGreen,sx,sy,'#2f8f2f',0.9,8);
  mass(g,'dense-ns-band',eDenseGray,sx,sy,'#555',1,4);
  mass(g,'dense-pvalue-left',eDenseBlueL,sx,sy,'#4a6fd8',1,4);
  mass(g,'dense-pvalue-right',eDenseBlueR,sx,sy,'#4a6fd8',1,4);
  mass(g,'dense-significant-left',eDenseRedL,sx,sy,'#ee1111',1,4);
  mass(g,'dense-significant-region',eDenseRed,sx,sy,'#ee1111',1,5);
  dots(g,'log2fc-point',eGreen,sx,sy,5,'#2f8f2f',0.55);
  dots(g,'pvalue-point',eBlue,sx,sy,5,'#6a88e0',0.6);
  dots(g,'significant-point',eRedCloud,sx,sy,5.4,'#e41c24',0.68);
  dots(g,'significant-point',eRedTop,sx,sy,5.4,'#d81f2b',0.58);
});

/* ---------- RNA-seq annotations ---------- */
const dNotes=[["ifit9",718,2618],["Trim35-24",753,2631],["dhx58",772,2682],["mx2",760,2712],["ftr22",763,2781],["ftr67",801,2786]];
const eNotes=[["aste1a",1935,2300],["ifit9",2041,2290],["dhx58",1916,2356],["mx2",2060,2361],["ifit8",2088,2504],["polyubiquitin/ISG15-like",2121,2608],["btr18",2088,2716],["ftr22",2132,2734]];
const annG=mk('g','rnaseq-annotations',{});
dNotes.concat(eNotes).forEach(n=>{txt('gene-annotation',n[1],n[2],n[0],{'font-size':17,fill:'#444'},annG);});
arrow(annG,'ifit9-arrow',734.7,2633,715.6,2657.7,12,'#111',1.4);
arrow(annG,'trim35-arrow',793.4,2646,748.8,2667,12,'#111',1.4);
arrow(annG,'dhx58-arrow',761.5,2684.4,709,2696.7,12,'#111',1.4);
arrow(annG,'mx2-arrow',760,2707.5,695.8,2707.5,12,'#111',1.4);
arrow(annG,'aste1a-arrow',1965.4,2313.8,2005,2332.8,12,'#111',1.4);
arrow(annG,'ifit9-arrow',2057,2304.5,2035.5,2331,12,'#111',1.4);
arrow(annG,'dhx58-arrow',1939.8,2369,1982.6,2384,12,'#111',1.4);
arrow(annG,'mx2-arrow',2084.6,2375.4,2007.4,2387.7,12,'#111',1.4);
arrow(annG,'ifit8-arrow',2101.8,2517.6,2035.5,2497.6,12,'#111',1.4);
arrow(annG,'btr18-arrow',2108,2729.6,2108,2765.5,12,'#111',1.4);
arrow(annG,'ftr22-arrow',2154,2747.6,2128.6,2773.7,12,'#111',1.4);
</script>
</body>
</html>
